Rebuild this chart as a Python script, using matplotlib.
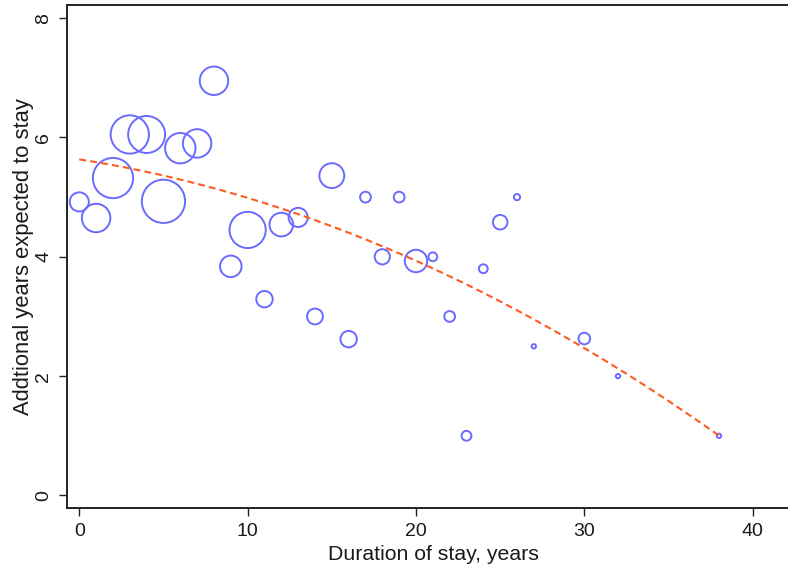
import numpy as np
import matplotlib
matplotlib.use("Agg")
import matplotlib.pyplot as plt

plt.rcParams['font.family'] = ['Liberation Sans', 'DejaVu Sans']

# Duration of stay (years) and mean additional years expected, with respondent counts
duration = [0, 1, 2, 3, 4, 5, 6, 7, 8, 9, 10, 11, 12, 13, 14, 15, 16, 17, 18, 19,
            20, 21, 22, 23, 24, 25, 26, 27, 30, 32, 38]
expected = [4.92, 4.65, 5.32, 6.05, 6.05, 4.93, 5.82, 5.90, 6.95, 3.84, 4.45, 3.29,
            4.54, 4.66, 3.00, 5.36, 2.62, 5.00, 4.00, 5.00, 3.93, 4.00, 3.00, 1.00,
            3.80, 4.58, 5.00, 2.50, 2.63, 2.00, 1.00]
counts = [19, 42, 84, 76, 71, 97, 48, 42, 42, 24, 68, 14, 29, 19, 13, 32, 14, 6,
          12, 6, 26, 4, 6, 5, 4, 11, 2, 1, 7, 1, 1]

x_ticks = [0, 10, 20, 30, 40]
y_ticks = [0, 2, 4, 6, 8]

x = np.array(duration, dtype=float)
y = np.array(expected, dtype=float)
n = np.array(counts, dtype=float)

fig = plt.figure(figsize=(7.88, 5.68), dpi=100)
# plot region runs slightly past the right edge of the canvas
ax = fig.add_axes([0.0846, 0.1051, 1.015 - 0.0846, 0.9912 - 0.1051])

ax.scatter(x, y, s=10.0 * n, facecolors='none', edgecolors='#6a6aff',
           linewidths=1.4, zorder=2)

# Weighted quadratic fit
coef = np.polyfit(x, y, 2, w=np.sqrt(n))
xf = np.linspace(x.min(), x.max(), 200)
ax.plot(xf, np.polyval(coef, xf), color='#ff5a1f', lw=1.5, dashes=(3.3, 2.0), zorder=3)

ax.set_xlim(-0.75, 42.8)
ax.set_ylim(-0.215, 8.22)
ax.set_xticks(x_ticks)
ax.set_yticks(y_ticks)

for side in ['left', 'bottom', 'top']:
    ax.spines[side].set_color('#222222')
    ax.spines[side].set_linewidth(1.4)
ax.spines['right'].set_visible(False)

ax.tick_params(axis='both', length=5.5, width=1.0, color='#222222',
               labelsize=14, labelcolor='#1a1a1a', pad=5)
for lab in ax.get_yticklabels():
    lab.set_rotation(90)
    lab.set_va('center')
    lab.set_ha('right')

ax.set_xlabel('Duration of stay, years', fontsize=15.3, color='#1a1a1a', labelpad=3.5)
ax.set_ylabel('Addtional years expected to stay', fontsize=15.8, color='#1a1a1a', labelpad=1)

fig.savefig('out.png', dpi=100)
